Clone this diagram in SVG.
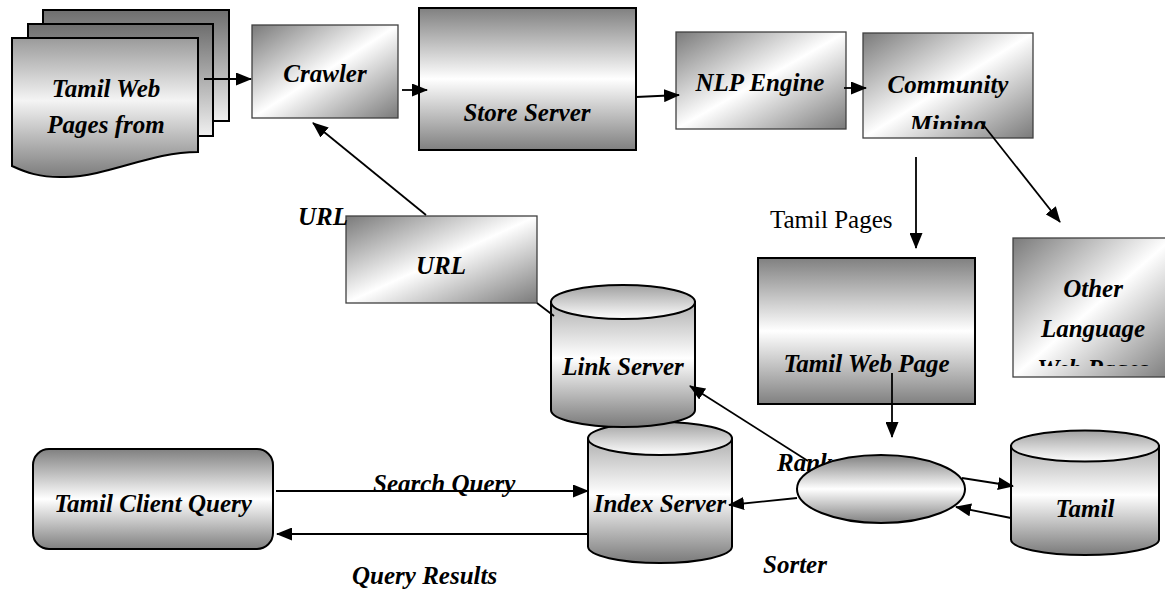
<svg xmlns="http://www.w3.org/2000/svg" width="1165" height="590" viewBox="0 0 1165 590">
<style>
.lbl{font-family:"Liberation Serif","Times New Roman",serif;font-size:25px;font-style:italic;font-weight:bold;fill:#000;text-anchor:middle}
.plain{font-family:"Liberation Serif","Times New Roman",serif;font-size:25px;fill:#000}
.free{font-family:"Liberation Serif","Times New Roman",serif;font-size:25px;font-style:italic;font-weight:bold;fill:#000}
.thin{stroke:#404040;stroke-width:1.3}
.thick{stroke:#000;stroke-width:2}
.conn line{stroke:#000;stroke-width:1.8;fill:none}
</style>
<defs>
<linearGradient id="gDiag" x1="0" y1="0" x2="1" y2="1">
<stop offset="0" stop-color="#7a7a7a"/><stop offset="0.5" stop-color="#ffffff"/><stop offset="1" stop-color="#7a7a7a"/>
</linearGradient>
<linearGradient id="gVert" x1="0" y1="0" x2="0" y2="1">
<stop offset="0" stop-color="#808080"/><stop offset="0.5" stop-color="#ffffff"/><stop offset="1" stop-color="#808080"/>
</linearGradient>
<linearGradient id="gBody" x1="0" y1="0" x2="0" y2="1">
<stop offset="0" stop-color="#b0b0b0"/><stop offset="0.45" stop-color="#ffffff"/><stop offset="1" stop-color="#7a7a7a"/>
</linearGradient>
<linearGradient id="gTop" x1="0" y1="0" x2="0" y2="1">
<stop offset="0" stop-color="#a0a0a0"/><stop offset="1" stop-color="#ffffff"/>
</linearGradient>
<linearGradient id="gDoc" x1="0" y1="0" x2="0" y2="1">
<stop offset="0" stop-color="#9a9a9a"/><stop offset="0.45" stop-color="#f4f4f4"/><stop offset="1" stop-color="#7c7c7c"/>
</linearGradient>
<linearGradient id="gBack" x1="0" y1="0" x2="0" y2="1">
<stop offset="0" stop-color="#6e6e6e"/><stop offset="1" stop-color="#f0f0f0"/>
</linearGradient>
<marker id="arr" markerWidth="16" markerHeight="13" refX="15" refY="6.5" orient="auto" markerUnits="userSpaceOnUse">
<path d="M0,0 L16,6.5 L0,13 Z" fill="#000"/>
</marker>
<clipPath id="clipComm"><rect x="863" y="33" width="170" height="96"/></clipPath>
<clipPath id="clipOther"><rect x="1013" y="238" width="160" height="128"/></clipPath>
</defs>

<g id="tamil-web-pages">
<rect x="43" y="10" width="186" height="111" fill="url(#gBack)" class="thick"/>
<rect x="28" y="24" width="185" height="112" fill="url(#gBack)" class="thick"/>
<path d="M12,38 H198 V152 C150,152 110,176 65,177 C40,178 25,172 12,166 Z" fill="url(#gDoc)" class="thick"/>
<text class="lbl" x="106" y="97">Tamil Web</text>
<text class="lbl" x="106" y="133">Pages from</text>
</g>

<g id="crawler">
<rect x="252" y="25" width="146" height="93" fill="url(#gDiag)" class="thin"/>
<text class="lbl" x="325" y="82">Crawler</text>
</g>

<g id="store-server">
<rect x="419" y="8" width="217" height="142" fill="url(#gVert)" class="thick"/>
<text class="lbl" x="527" y="121">Store Server</text>
</g>

<g id="nlp-engine">
<rect x="676" y="32" width="170" height="97" fill="url(#gDiag)" class="thin"/>
<text class="lbl" x="760" y="91">NLP Engine</text>
</g>

<g id="community-mining">
<rect x="863" y="33" width="170" height="105" fill="url(#gDiag)" class="thin"/>
<g clip-path="url(#clipComm)">
<text class="lbl" x="948" y="93">Community</text>
<text class="lbl" x="948" y="133">Mining</text>
</g>
</g>

<g id="url-box">
<rect x="346" y="216" width="191" height="87" fill="url(#gDiag)" class="thin"/>
<text class="lbl" x="441" y="274">URL</text>
</g>

<g id="tamil-web-page">
<rect x="758" y="258" width="217" height="146" fill="url(#gVert)" class="thick"/>
<text class="lbl" x="866.5" y="372">Tamil Web Page</text>
</g>

<g id="other-language">
<rect x="1013" y="238" width="160" height="139" fill="url(#gDiag)" class="thin"/>
<g clip-path="url(#clipOther)">
<text class="lbl" x="1093" y="297">Other</text>
<text class="lbl" x="1093" y="337">Language</text>
<text class="lbl" x="1093" y="377">Web Pages</text>
</g>
</g>

<g id="index-server">
<path d="M588,438.5 V546.5 A72,16.5 0 0 0 732,546.5 V438.5 Z" fill="url(#gBody)" class="thick"/>
<ellipse cx="660" cy="438.5" rx="72" ry="16.5" fill="url(#gTop)" class="thick"/>
<text class="lbl" x="660" y="512">Index Server</text>
</g>

<g id="link-server">
<path d="M551,302 V410 A72,17 0 0 0 695,410 V302 Z" fill="url(#gBody)" class="thick"/>
<ellipse cx="623" cy="302" rx="72" ry="17" fill="url(#gTop)" class="thick"/>
<text class="lbl" x="623" y="375">Link Server</text>
</g>

<g id="tamil-db">
<path d="M1011,446 V539.5 A74,15.5 0 0 0 1159,539.5 V446 Z" fill="url(#gBody)" class="thick"/>
<ellipse cx="1085" cy="446" rx="74" ry="15.5" fill="url(#gTop)" class="thick"/>
<text class="lbl" x="1085" y="517">Tamil</text>
</g>

<g id="ranker-sorter">
<text class="free" x="777" y="471">Ranker</text>
<ellipse cx="881" cy="489" rx="84" ry="34" fill="url(#gVert)" class="thick"/>
<text class="free" x="763" y="573">Sorter</text>
</g>

<g id="tamil-client-query">
<rect x="33" y="449" width="240" height="100" rx="16" ry="16" fill="url(#gVert)" class="thick"/>
<text class="lbl" x="153" y="512">Tamil Client Query</text>
</g>

<g id="connectors" class="conn">
<line x1="204" y1="79" x2="251" y2="79" marker-end="url(#arr)"/>
<line x1="402" y1="90" x2="427" y2="90" marker-end="url(#arr)"/>
<line x1="636" y1="97" x2="679" y2="95" marker-end="url(#arr)"/>
<line x1="844" y1="88" x2="866" y2="88" marker-end="url(#arr)"/>
<line x1="426" y1="215" x2="313" y2="123" marker-end="url(#arr)"/>
<line x1="537" y1="303" x2="554" y2="316"/>
<line x1="916" y1="157" x2="916" y2="248" marker-end="url(#arr)"/>
<line x1="981" y1="122" x2="1060" y2="222" marker-end="url(#arr)"/>
<line x1="892" y1="373" x2="892" y2="437" marker-end="url(#arr)"/>
<line x1="808" y1="461" x2="690" y2="386" marker-end="url(#arr)"/>
<line x1="797" y1="498" x2="729" y2="505" marker-end="url(#arr)"/>
<line x1="962" y1="478" x2="1013" y2="486" marker-end="url(#arr)"/>
<line x1="1011" y1="518" x2="956" y2="507" marker-end="url(#arr)"/>
<line x1="276" y1="491" x2="588" y2="491" marker-end="url(#arr)"/>
<line x1="588" y1="534" x2="277" y2="534" marker-end="url(#arr)"/>
</g>

<g id="free-labels">
<text class="free" x="298" y="225">URL</text>
<text class="plain" x="770" y="228">Tamil Pages</text>
<text class="free" x="373" y="492">Search Query</text>
<text class="free" x="352" y="584">Query Results</text>
</g>
</svg>
